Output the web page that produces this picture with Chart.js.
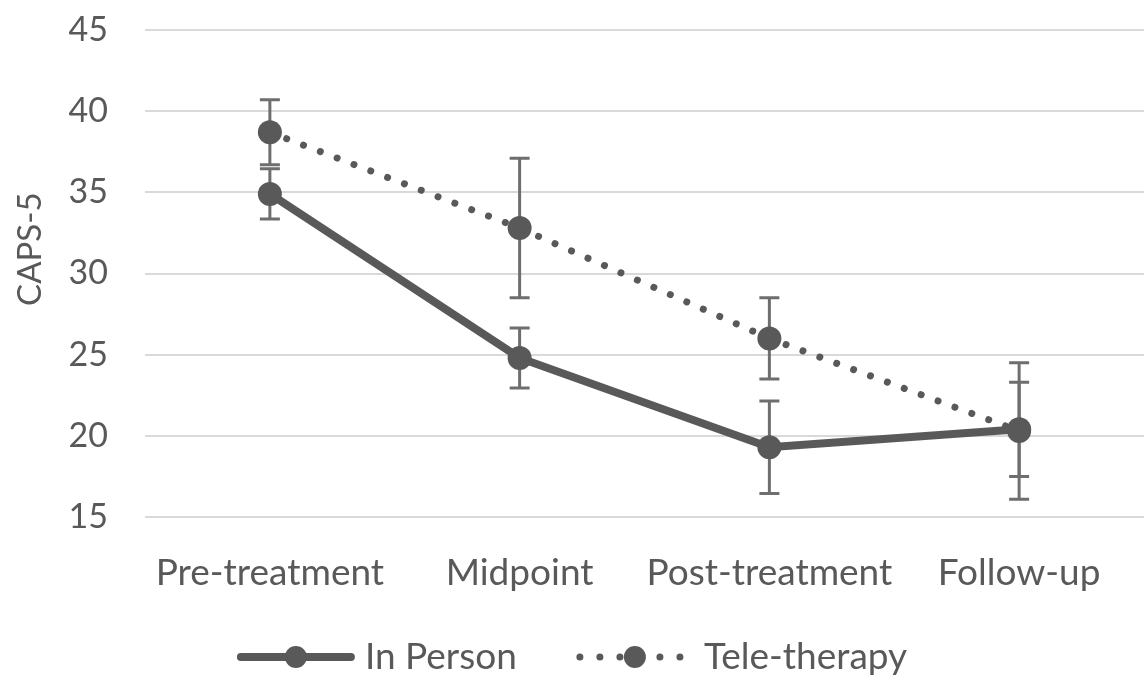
<!DOCTYPE html>
<html>
<head>
<meta charset="utf-8">
<script src="https://cdn.jsdelivr.net/npm/chart.js@4.4.1/dist/chart.umd.min.js"></script>
<style>
  html, body { margin: 0; padding: 0; background: #fff; }
  #wrap { width: 1144px; height: 681px; }
</style>
</head>
<body>
<div id="wrap"><canvas id="chart" width="1144" height="681"></canvas></div>
<script>
// data
const phases = ['Pre-treatment', 'Midpoint', 'Post-treatment', 'Follow-up'];
const inPerson = [34.9, 24.8, 19.3, 20.4];
const inPersonErr = [1.55, 1.85, 2.85, 2.9];
const teleTherapy = [38.7, 32.8, 26.0, 20.3];
const teleErr = [2.0, 4.3, 2.5, 4.2];
const yTicks = [15, 20, 25, 30, 35, 40, 45];
const yTitle = 'CAPS-5';

const ink = '#595959';
const FONT = 'Lato, "Open Sans", sans-serif';
const DOTS = [0.01, 18];

// vertical error bars drawn through the data scales
const errorBars = {
    id: 'errorBars',
    beforeDatasetsDraw(chart) {
        const { ctx, scales: { x, y } } = chart;
        const sets = [[inPerson, inPersonErr], [teleTherapy, teleErr]];
        ctx.save();
        ctx.strokeStyle = '#6e6e6e';
        ctx.lineWidth = 3;
        sets.forEach(([vals, errs]) => {
            vals.forEach((v, i) => {
                const px = x.getPixelForValue(i);
                const top = y.getPixelForValue(v + errs[i]);
                const bot = y.getPixelForValue(v - errs[i]);
                ctx.beginPath();
                ctx.moveTo(px, top); ctx.lineTo(px, bot);
                ctx.moveTo(px - 10, top); ctx.lineTo(px + 10, top);
                ctx.moveTo(px - 10, bot); ctx.lineTo(px + 10, bot);
                ctx.stroke();
            });
        });
        ctx.restore();
    }
};

// y axis title, sitting a little above the middle like the original
const axisTitle = {
    id: 'axisTitle',
    afterDraw(chart) {
        const { ctx, scales: { y } } = chart;
        ctx.save();
        ctx.translate(30, y.getPixelForValue(31.5));
        ctx.rotate(-Math.PI / 2);
        ctx.font = '33px ' + FONT;
        ctx.fillStyle = ink;
        ctx.textAlign = 'center';
        ctx.textBaseline = 'middle';
        ctx.fillText(yTitle, 0, 0);
        ctx.restore();
    }
};

// legend in the Excel style: line + marker swatch, then the label
const bottomLegend = {
    id: 'bottomLegend',
    afterDraw(chart) {
        const ctx = chart.ctx;
        const swatchW = 118, gap = 10, itemGap = 59, cy = 657;
        ctx.save();
        ctx.font = '37px ' + FONT;
        const items = chart.data.datasets.map(ds => ({ ds, w: ctx.measureText(ds.label).width }));
        const total = items.reduce((s, it) => s + swatchW + gap + it.w, 0) + itemGap * (items.length - 1);
        let x = chart.width / 2 - total / 2;
        items.forEach(({ ds, w }) => {
            ctx.strokeStyle = ink;
            ctx.fillStyle = ink;
            ctx.lineCap = 'round';
            ctx.lineWidth = ds.borderDash ? 7 : 8;
            ctx.setLineDash(ds.borderDash ? [0.01, 20] : []);
            ctx.beginPath();
            ctx.moveTo(x + 4, cy);
            ctx.lineTo(x + swatchW - 4, cy);
            ctx.stroke();
            ctx.setLineDash([]);
            ctx.beginPath();
            ctx.arc(x + swatchW / 2, cy, 11, 0, Math.PI * 2);
            ctx.fill();
            ctx.textBaseline = 'middle';
            ctx.textAlign = 'left';
            ctx.fillText(ds.label, x + swatchW + gap, cy);
            x += swatchW + gap + w + itemGap;
        });
        ctx.restore();
    }
};

new Chart(document.getElementById('chart'), {
    type: 'line',
    data: {
        labels: phases,
        datasets: [
            {
                label: 'In Person',
                data: inPerson,
                borderColor: ink,
                backgroundColor: ink,
                borderWidth: 8,
                pointRadius: 12,
                pointBackgroundColor: ink,
                pointBorderWidth: 0,
                tension: 0
            },
            {
                label: 'Tele-therapy',
                data: teleTherapy,
                borderColor: ink,
                backgroundColor: ink,
                borderWidth: 7,
                borderDash: DOTS,
                borderCapStyle: 'round',
                pointRadius: 12,
                pointBackgroundColor: ink,
                pointBorderWidth: 0,
                tension: 0
            }
        ]
    },
    options: {
        responsive: false,
        animation: false,
        layout: { autoPadding: false, padding: { top: 30, right: 0, bottom: 74, left: 0 } },
        scales: {
            x: {
                offset: true,
                grid: { display: false },
                border: { display: false },
                ticks: { color: ink, font: { family: FONT, size: 37 }, padding: 26, maxRotation: 0, autoSkip: false },
                afterFit: (s) => { s.height = 90; s.paddingLeft = 0; s.paddingRight = 0; }
            },
            y: {
                min: 15,
                max: 45,
                afterBuildTicks: (s) => { s.ticks = yTicks.map(v => ({ value: v })); },
                grid: { color: '#d9d9d9', lineWidth: 2, drawTicks: false },
                border: { display: false },
                ticks: { color: ink, font: { family: FONT, size: 34 }, padding: 37 },
                afterFit: (s) => { s.width = 145; s.paddingTop = 0; s.paddingBottom = 0; }
            }
        },
        plugins: {
            tooltip: { enabled: false },
            legend: { display: false }
        }
    },
    plugins: [errorBars, axisTitle, bottomLegend]
});
</script>
</body>
</html>
